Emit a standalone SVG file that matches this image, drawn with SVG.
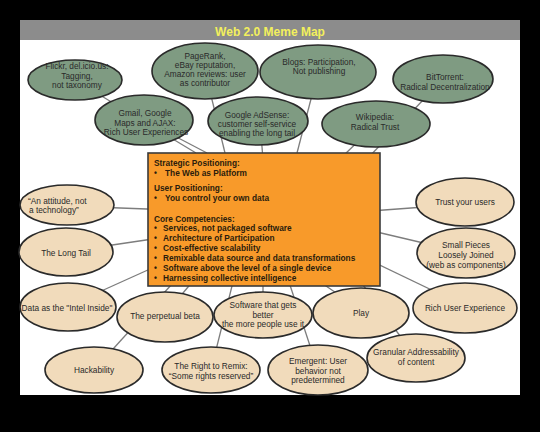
<svg xmlns="http://www.w3.org/2000/svg" width="540" height="432" viewBox="0 0 540 432">
<style>
.bg{fill:#000}
.panel{fill:#fff}
.bar{fill:#8c8c8c}
.title{font-family:"Liberation Sans",Arial,sans-serif;font-weight:bold;font-size:12px;fill:#f3f05c;text-anchor:middle}
.g{fill:#7f9b82;stroke:#2a2a2a;stroke-width:1.6}
.b{fill:#f1dbbb;stroke:#2a2a2a;stroke-width:1.6}
.t{font-family:"Liberation Sans",Arial,sans-serif;font-size:8.3px;fill:#2a2a2a;text-anchor:middle}
.box{fill:#f89a2a;stroke:#3a3a3a;stroke-width:1.6}
.bt{font-family:"Liberation Sans",Arial,sans-serif;font-size:8.3px;font-weight:bold;fill:#2a1c0c}
#connectors line{stroke:#7d7d7d;stroke-width:1.3}
</style>
<rect class="bg" x="0" y="0" width="540" height="432"/>
<rect class="panel" x="20" y="20" width="500" height="375"/>
<rect class="bar" x="20" y="20" width="500" height="20"/>
<text class="title" x="270" y="36">Web 2.0 Meme Map</text>

<g id="connectors">
<line x1="196" y1="153" x2="75" y2="80"/>
<line x1="207" y1="153" x2="144" y2="120"/>
<line x1="225" y1="153" x2="205" y2="71"/>
<line x1="263" y1="160" x2="260" y2="121"/>
<line x1="297" y1="153" x2="318" y2="72"/>
<line x1="341" y1="158" x2="376" y2="124"/>
<line x1="368" y1="158" x2="443" y2="79"/>
<line x1="330" y1="214" x2="465" y2="204"/>
<line x1="330" y1="221" x2="466" y2="253"/>
<line x1="340" y1="246" x2="465" y2="306"/>
<line x1="310" y1="275" x2="361" y2="310"/>
<line x1="350" y1="267" x2="416" y2="358"/>
<line x1="285" y1="270" x2="318" y2="370"/>
<line x1="263" y1="270" x2="263" y2="315"/>
<line x1="236" y1="270" x2="211" y2="370"/>
<line x1="182" y1="273" x2="94" y2="370"/>
<line x1="198" y1="275" x2="163" y2="317"/>
<line x1="170" y1="260" x2="68" y2="306"/>
<line x1="200" y1="232" x2="65" y2="252"/>
<line x1="200" y1="211" x2="67" y2="206"/>
</g>

<g id="core">
<rect class="box" x="148" y="153" width="232" height="133"/>
<text class="bt" x="154" y="166">Strategic Positioning:</text>
<text class="bt" y="176"><tspan x="154">•</tspan><tspan x="165">The Web as Platform</tspan></text>
<text class="bt" x="154" y="191">User Positioning:</text>
<text class="bt" y="201"><tspan x="154">•</tspan><tspan x="165">You control your own data</tspan></text>
<text class="bt" x="154" y="222">Core Competencies:</text>
<text class="bt" y="231"><tspan x="154">•</tspan><tspan x="163">Services, not packaged software</tspan></text>
<text class="bt" y="241"><tspan x="154">•</tspan><tspan x="163">Architecture of Participation</tspan></text>
<text class="bt" y="251"><tspan x="154">•</tspan><tspan x="163">Cost-effective scalability</tspan></text>
<text class="bt" y="261"><tspan x="154">•</tspan><tspan x="163">Remixable data source and data transformations</tspan></text>
<text class="bt" y="271"><tspan x="154">•</tspan><tspan x="163">Software above the level of a single device</tspan></text>
<text class="bt" y="281"><tspan x="154">•</tspan><tspan x="163">Harnessing collective intelligence</tspan></text>
</g>

<g id="flickr"><ellipse class="g" cx="75" cy="80" rx="47" ry="20"/>
<text class="t" y="69"><tspan x="77">Flickr, del.icio.us:</tspan><tspan x="77" dy="9.5">Tagging,</tspan><tspan x="77" dy="9.5">not taxonomy</tspan></text></g>
<g id="pagerank"><ellipse class="g" cx="205" cy="71" rx="53" ry="28"/>
<text class="t" y="59"><tspan x="205">PageRank,</tspan><tspan x="205" dy="9">eBay reputation,</tspan><tspan x="205" dy="9">Amazon reviews:  user</tspan><tspan x="205" dy="9">as contributor</tspan></text></g>
<g id="blogs"><ellipse class="g" cx="318" cy="72" rx="58" ry="27"/>
<text class="t" y="65"><tspan x="319">Blogs:  Participation,</tspan><tspan x="319" dy="9">Not publishing</tspan></text></g>
<g id="bittorrent"><ellipse class="g" cx="443" cy="79" rx="50" ry="24"/>
<text class="t" y="80"><tspan x="445">BitTorrent:</tspan><tspan x="445" dy="10">Radical Decentralization</tspan></text></g>
<g id="gmail"><ellipse class="g" cx="144" cy="120" rx="49" ry="25"/>
<text class="t" y="116"><tspan x="145">Gmail, Google</tspan><tspan x="145" dy="9.5">Maps and AJAX:</tspan><tspan x="146" dy="9.5">Rich User Experiences</tspan></text></g>
<g id="adsense"><ellipse class="g" cx="258" cy="121" rx="50" ry="24"/>
<text class="t" y="118"><tspan x="257">Google AdSense:</tspan><tspan x="257" dy="9">customer self-service</tspan><tspan x="257" dy="9">enabling the long tail</tspan></text></g>
<g id="wikipedia"><ellipse class="g" cx="376" cy="124" rx="54" ry="23"/>
<text class="t" y="120"><tspan x="375">Wikipedia:</tspan><tspan x="375" dy="10">Radical Trust</tspan></text></g>

<g id="attitude"><ellipse class="b" cx="67" cy="205" rx="47" ry="20"/>
<text class="t" y="204" style="text-anchor:start"><tspan x="28">“An attitude, not</tspan><tspan x="29" dy="9">a technology”</tspan></text></g>
<g id="longtail"><ellipse class="b" cx="66" cy="252" rx="47" ry="24"/>
<text class="t" x="66" y="256">The Long Tail</text></g>
<g id="intel"><ellipse class="b" cx="68" cy="307" rx="48" ry="24"/>
<text class="t" x="67" y="311">Data as the "Intel Inside"</text></g>
<g id="beta"><ellipse class="b" cx="165" cy="317" rx="48" ry="25"/>
<text class="t" x="165" y="319">The perpetual beta</text></g>
<g id="hackability"><ellipse class="b" cx="94" cy="370" rx="49" ry="23"/>
<text class="t" x="94" y="373">Hackability</text></g>
<g id="remix"><ellipse class="b" cx="211" cy="370" rx="49" ry="23"/>
<text class="t" y="369"><tspan x="211">The Right to Remix:</tspan><tspan x="211" dy="10">“Some rights reserved”</tspan></text></g>
<g id="software"><ellipse class="b" cx="263" cy="315" rx="49" ry="23"/>
<text class="t" y="308"><tspan x="263">Software that gets</tspan><tspan x="263" dy="9.5">better</tspan><tspan x="263" dy="9.5">the more people use it</tspan></text></g>
<g id="play"><ellipse class="b" cx="361" cy="313" rx="48" ry="25"/>
<text class="t" x="361" y="316">Play</text></g>
<g id="emergent"><ellipse class="b" cx="318" cy="370" rx="50" ry="25"/>
<text class="t" y="364"><tspan x="318">Emergent:  User</tspan><tspan x="318" dy="9.5">behavior not</tspan><tspan x="318" dy="9.5">predetermined</tspan></text></g>
<g id="granular"><ellipse class="b" cx="416" cy="358" rx="49" ry="24"/>
<text class="t" y="355"><tspan x="416">Granular Addressability</tspan><tspan x="416" dy="10">of content</tspan></text></g>
<g id="richue"><ellipse class="b" cx="465" cy="308" rx="52" ry="25"/>
<text class="t" x="465" y="311">Rich User Experience</text></g>
<g id="trust"><ellipse class="b" cx="465" cy="202" rx="49" ry="24"/>
<text class="t" x="465" y="205">Trust your users</text></g>
<g id="smallpieces"><ellipse class="b" cx="466" cy="253" rx="49" ry="25"/>
<text class="t" y="248"><tspan x="466">Small Pieces</tspan><tspan x="466" dy="10">Loosely Joined</tspan><tspan x="466" dy="10">(web as components)</tspan></text></g>
</svg>
